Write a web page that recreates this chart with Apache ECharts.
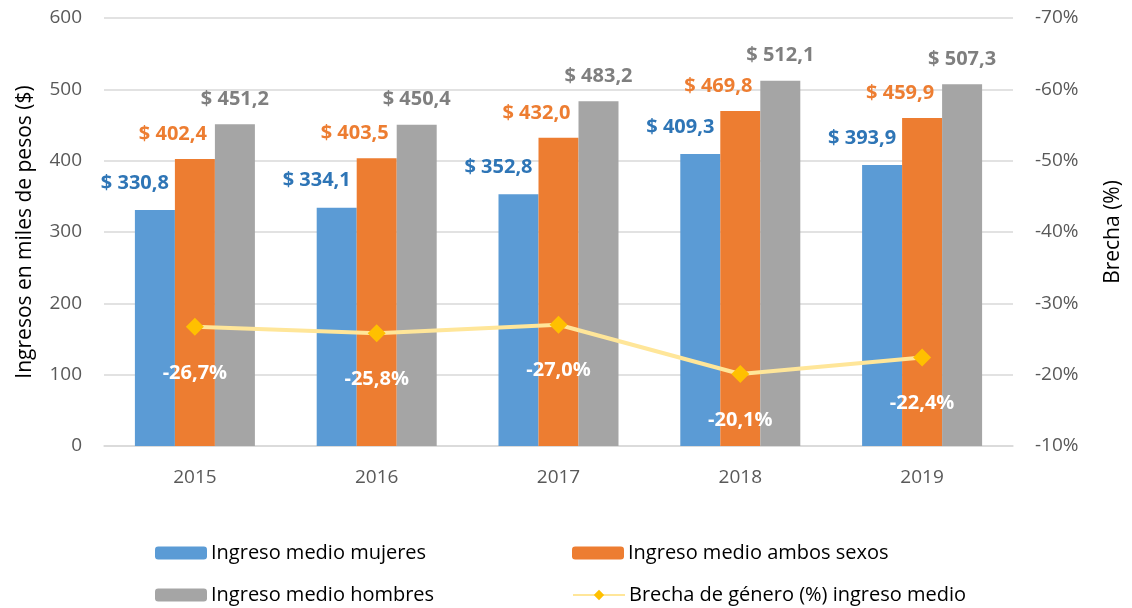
<!DOCTYPE html>
<html><head><meta charset="utf-8">
<script src="https://cdn.jsdelivr.net/npm/echarts@6/dist/echarts.min.js"></script>
<style>html,body{margin:0;padding:0;background:#fff}#c{width:1132px;height:608px}</style>
</head><body><div id="c"></div>
<script>
const categories = ['2015','2016','2017','2018','2019'];
const mujeres = [330.8, 334.1, 352.8, 409.3, 393.9];
const ambos = [402.4, 403.5, 432.0, 469.8, 459.9];
const hombres = [451.2, 450.4, 483.2, 512.1, 507.3];
const brecha = [-26.7, -25.8, -27.0, -20.1, -22.4];
const names = ['Ingreso medio mujeres','Ingreso medio ambos sexos','Ingreso medio hombres','Brecha de género (%) ingreso medio'];

const FONT = '"Open Sans", "Noto Sans", sans-serif';
const fmtNum = v => '$ ' + v.toFixed(1).replace('.', ',');
const fmtPct = v => v.toFixed(1).replace('.', ',') + '%';

function barSeries(name, data, color, labelColor, offset) {
  return {
    name, type: 'bar', data, barWidth: 40, barGap: '0%',
    itemStyle: { color },
    label: { show: true, position: 'top', offset, color: labelColor, fontWeight: 'bold',
      fontSize: 20, fontFamily: FONT, formatter: p => fmtNum(p.value) }
  };
}
function legendAt(name, left, top) {
  return { data: [name], left, top, itemWidth: 52, itemHeight: 13, itemGap: 0,
    textStyle: { fontSize: 20, color: '#000', fontFamily: FONT, padding: [0,0,0,-1] } };
}

const chart = echarts.init(document.getElementById('c'));
chart.setOption({
  animation: false,
  textStyle: { fontFamily: FONT },
  grid: { left: 104, right: 119, top: 18, bottom: 162 },
  legend: [
    legendAt(names[0], 150, 538),
    legendAt(names[1], 567, 538),
    legendAt(names[2], 150, 580),
    legendAt(names[3], 567, 580)
  ],
  xAxis: {
    type: 'category', data: categories,
    axisLine: { lineStyle: { color: '#D9D9D9', width: 1.5 } },
    axisTick: { show: false },
    axisLabel: { color: '#595959', fontSize: 19, margin: 22, fontFamily: FONT }
  },
  yAxis: [
    { type: 'value', min: 0, max: 600, interval: 100,
      name: 'Ingresos en miles de pesos ($)', nameLocation: 'middle', nameGap: 68, nameRotate: 90,
      nameTextStyle: { fontSize: 21, color: '#000', fontFamily: FONT },
      axisLabel: { color: '#595959', fontSize: 19, margin: 22, fontFamily: FONT },
      splitLine: { lineStyle: { color: '#D9D9D9', width: 1.5 } },
      axisLine: { show: false }, axisTick: { show: false } },
    { type: 'value', min: -70, max: -10, interval: 10, inverse: true, position: 'right',
      name: 'Brecha (%)', nameLocation: 'middle', nameGap: 90, nameRotate: 90,
      nameTextStyle: { fontSize: 21, color: '#000', fontFamily: FONT },
      axisLabel: { color: '#595959', fontSize: 19, margin: 22, fontFamily: FONT, formatter: v => v + '%' },
      splitLine: { show: false }, axisLine: { show: false }, axisTick: { show: false } }
  ],
  series: [
    barSeries(names[0], mujeres, '#5B9BD5', '#2E75B6', [-20, -12]),
    barSeries(names[1], ambos, '#ED7D31', '#ED7D31', [-22, -10]),
    barSeries(names[2], hombres, '#A5A5A5', '#7F7F7F', [0, -10]),
    { name: names[3], type: 'line', yAxisIndex: 1, data: brecha,
      lineStyle: { color: '#FFE699', width: 4 },
      itemStyle: { color: '#FFC000' },
      symbol: 'diamond', symbolSize: 18,
      label: { show: true, position: 'bottom', distance: 27, color: '#fff', fontWeight: 'bold',
        fontSize: 20, fontFamily: FONT, formatter: p => fmtPct(p.value) },
      z: 5 }
  ]
});
</script></body></html>
